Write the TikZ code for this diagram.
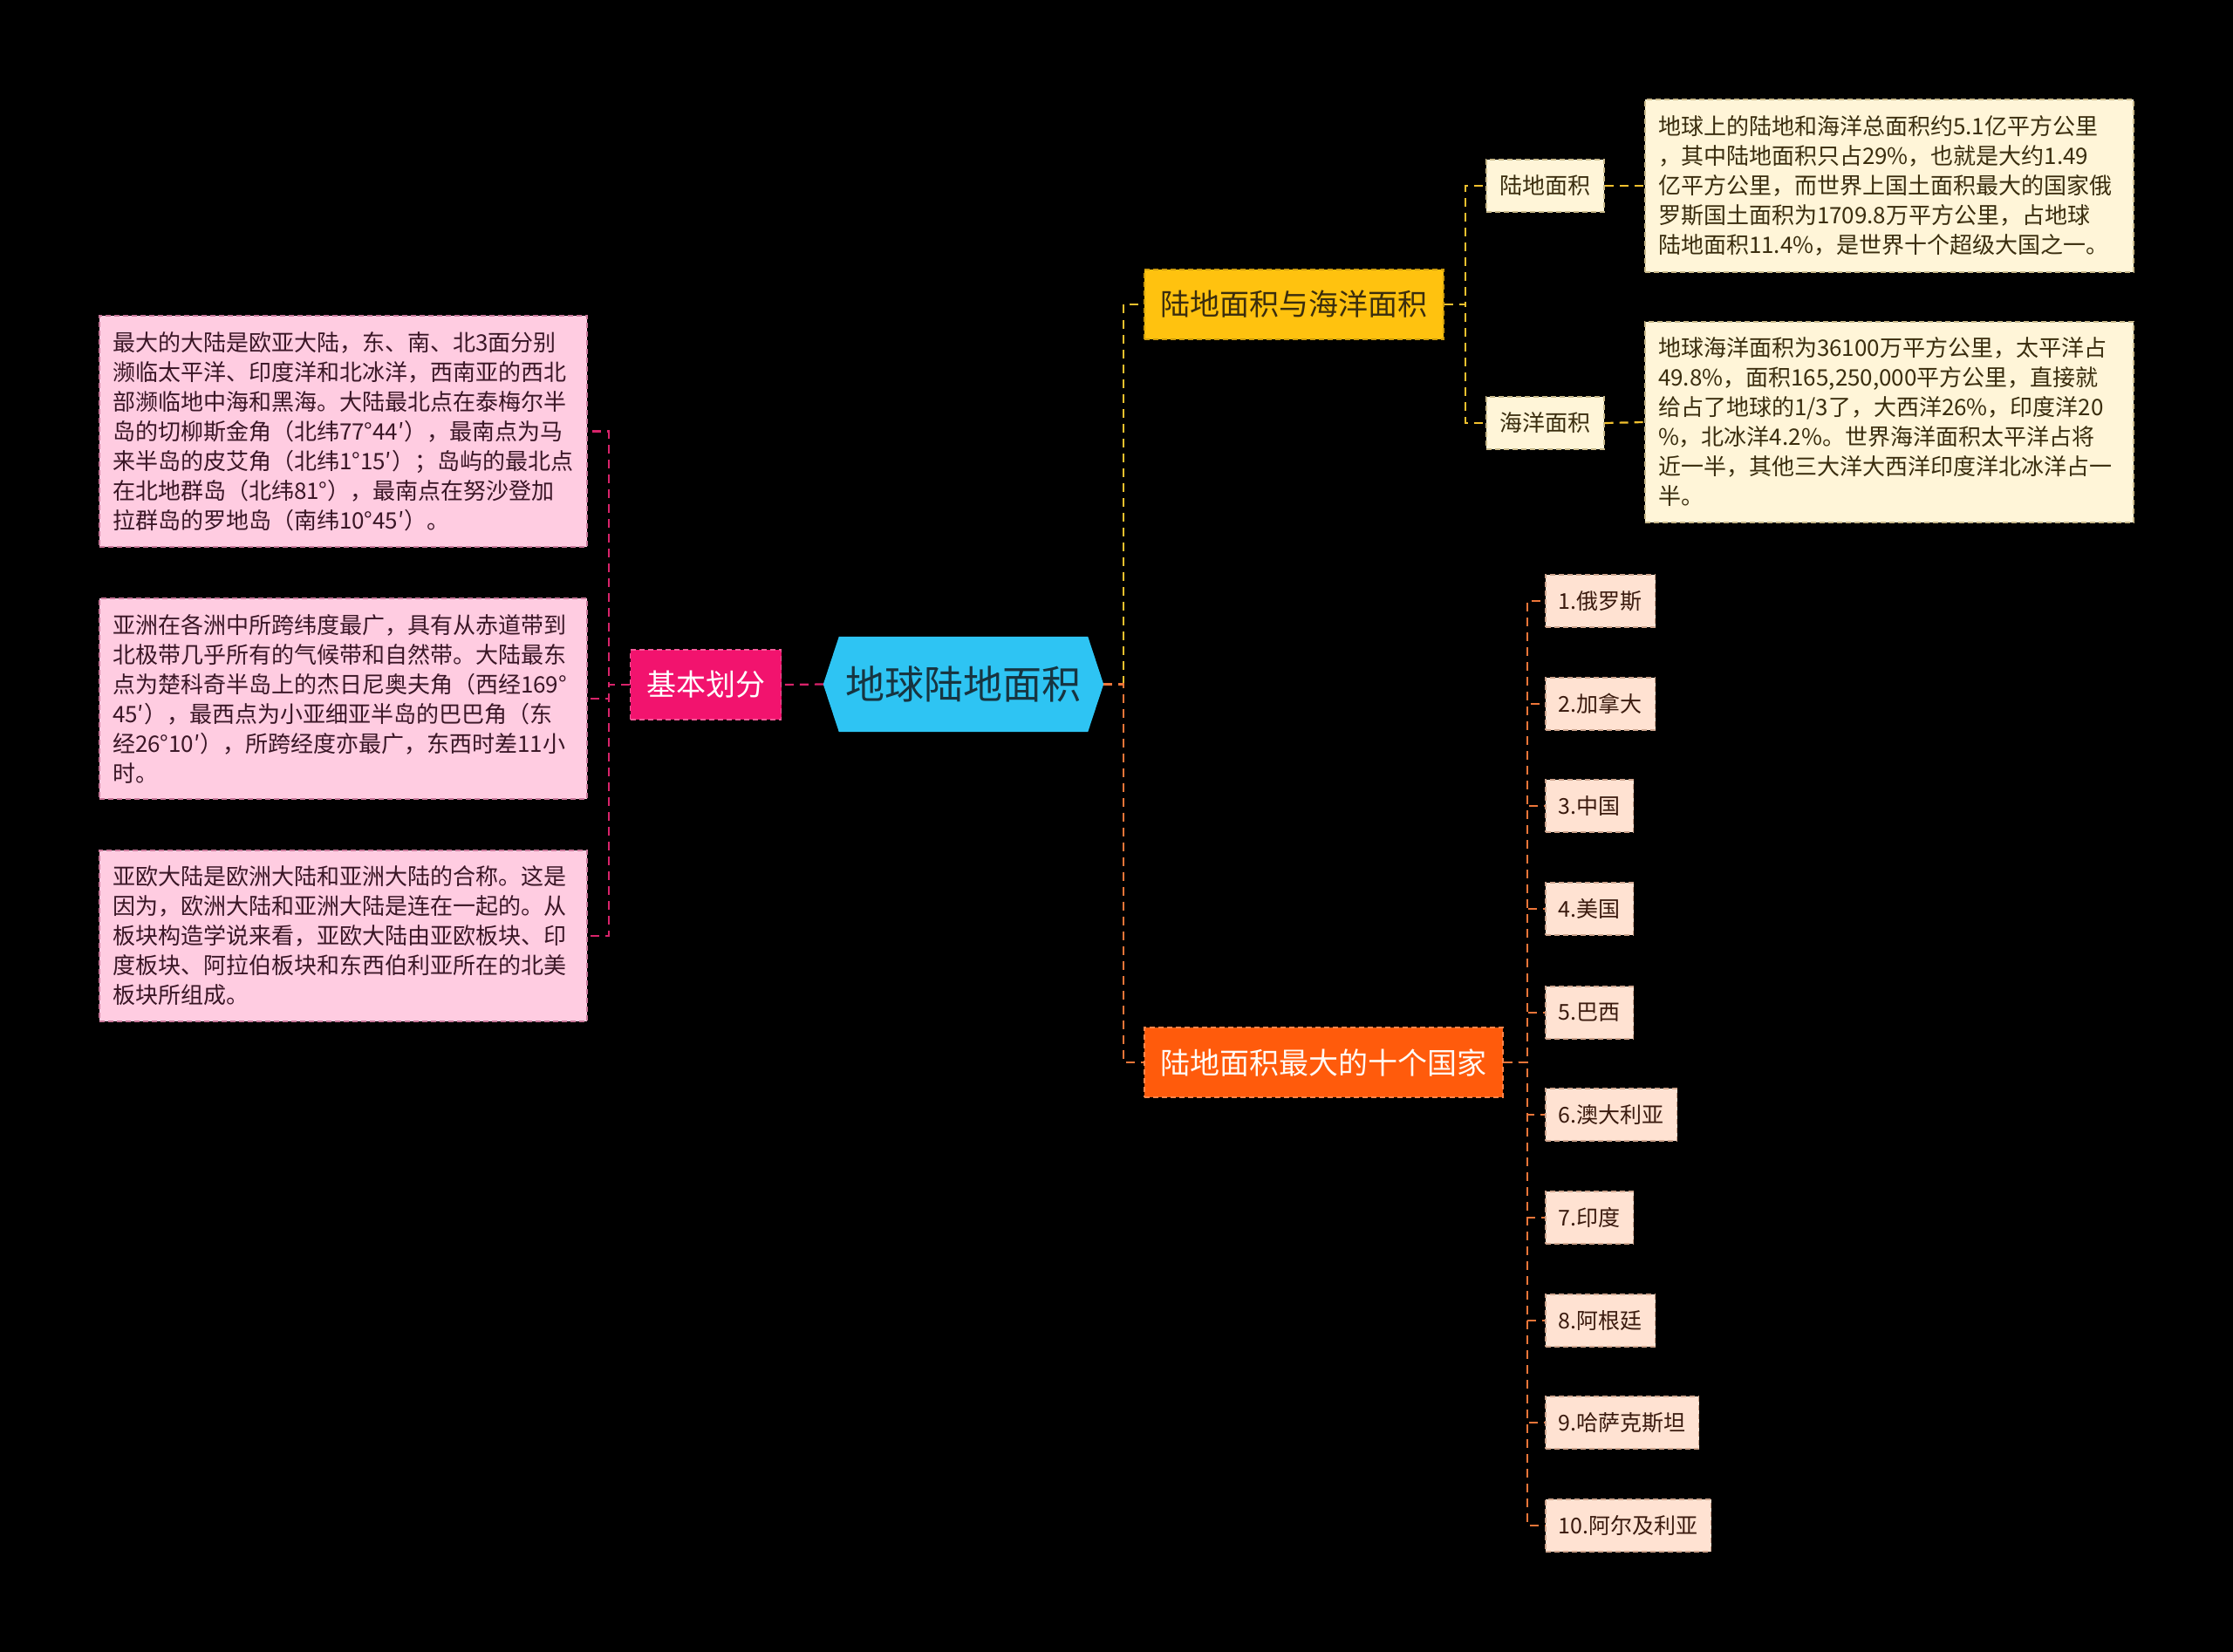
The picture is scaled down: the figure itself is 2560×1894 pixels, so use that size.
\documentclass[tikz,border=0pt]{standalone}
\usepackage{fontspec}
\setmainfont{Noto Sans CJK SC}
\usetikzlibrary{backgrounds,calc}
\definecolor{rootblue}{HTML}{2EC4F3}
\definecolor{roottext}{HTML}{173440}
\definecolor{hotpink}{HTML}{F2136E}
\definecolor{pinkline}{HTML}{D8236A}
\definecolor{pinkbox}{HTML}{FFCCE1}
\definecolor{pinkboxline}{HTML}{C9789A}
\definecolor{pinktext}{HTML}{3A1626}
\definecolor{amber}{HTML}{FFC20F}
\definecolor{amberline}{HTML}{F2C12E}
\definecolor{creambox}{HTML}{FFF5D8}
\definecolor{creamline}{HTML}{C9B98A}
\definecolor{creamtext}{HTML}{3A2D0E}
\definecolor{orangefill}{HTML}{FF5B0C}
\definecolor{orangeline}{HTML}{EE7639}
\definecolor{peachbox}{HTML}{FFE2D2}
\definecolor{peachline}{HTML}{CFA58E}
\definecolor{peachtext}{HTML}{3A1A0E}
\tikzset{
  conn/.style={line width=2.2pt, dash pattern=on 10pt off 7pt},
  pinkconn/.style={conn, draw=pinkline},
  yellowconn/.style={conn, draw=amberline},
  orangeconn/.style={conn, draw=orangeline},
  boxbase/.style={line width=1.6pt, dash pattern=on 6pt off 4pt, inner ysep=0pt},
  topicbox/.style={boxbase, font=\fontsize{34}{40}\selectfont, inner xsep=18.5pt, minimum height=80pt},
  leftboxstyle/.style={boxbase, fill=pinkbox, draw=pinkboxline, text=pinktext,
    font=\fontsize{26}{34}\selectfont, align=left, text width=529pt, inner xsep=15pt, minimum width=559pt},
  rightboxstyle/.style={boxbase, fill=creambox, draw=creamline, text=creamtext,
    font=\fontsize{26}{34}\selectfont, align=left, text width=530pt, inner xsep=15pt, minimum width=560pt},
  subbox/.style={boxbase, fill=creambox, draw=creamline, text=creamtext,
    font=\fontsize{26}{30}\selectfont, inner xsep=15.5pt, minimum height=60pt},
  countrybox/.style={boxbase, fill=peachbox, draw=peachline, text=peachtext,
    font=\fontsize{25}{30}\selectfont, inner xsep=15pt, minimum height=60pt, anchor=west},
}
\begin{document}
\begin{tikzpicture}[x=1pt,y=-1pt]
\useasboundingbox (0,0) rectangle (2560,1894);
\begin{scope}[on background layer]
  \fill[black] (0,0) rectangle (2560,1894);
\end{scope}

% root
\node[text=roottext, font=\fontsize{45}{54}\selectfont, minimum width=285pt, minimum height=109pt, inner sep=0pt] (root) at (1104.5,784.5) {地球陆地面积};
\coordinate (rootR) at ([xshift=18pt]root.east);
\coordinate (rootL) at ([xshift=-18pt]root.west);
\begin{scope}[on background layer]
  \fill[rootblue] (rootL) -- (root.north west) -- (root.north east) -- (rootR) -- (root.south east) -- (root.south west) -- cycle;
\end{scope}

% left branch
\node[topicbox, fill=hotpink, draw=hotpink!70!white, text=white] (basic) at (809,785) {基本划分};

\node[leftboxstyle, minimum height=265pt] (L1) at (393.5,494.5) {最大的大陆是欧亚大陆，东、南、北3面分别\\濒临太平洋、印度洋和北冰洋，西南亚的西北\\部濒临地中海和黑海。大陆最北点在泰梅尔半\\岛的切柳斯金角（北纬77°44′），最南点为马\\来半岛的皮艾角（北纬1°15′）；岛屿的最北点\\在北地群岛（北纬81°），最南点在努沙登加\\拉群岛的罗地岛（南纬10°45′）。};
\node[leftboxstyle, minimum height=230pt] (L2) at (393.5,801) {亚洲在各洲中所跨纬度最广，具有从赤道带到\\北极带几乎所有的气候带和自然带。大陆最东\\点为楚科奇半岛上的杰日尼奥夫角（西经169°\\45′），最西点为小亚细亚半岛的巴巴角（东\\经26°10′），所跨经度亦最广，东西时差11小\\时。};
\node[leftboxstyle, minimum height=196pt] (L3) at (393.5,1073) {亚欧大陆是欧洲大陆和亚洲大陆的合称。这是\\因为，欧洲大陆和亚洲大陆是连在一起的。从\\板块构造学说来看，亚欧大陆由亚欧板块、印\\度板块、阿拉伯板块和东西伯利亚所在的北美\\板块所组成。};

\draw[pinkconn] (rootL) -- (basic.east);
\draw[pinkconn] (basic.west) -- ++(-24,0) |- (L1.east);
\draw[pinkconn] (basic.west) -- ++(-24,0) |- (L2.east);
\draw[pinkconn] (basic.west) -- ++(-24,0) |- (L3.east);

% right branch: topics
\node[topicbox, fill=amber, draw=amber!80!black, text=creamtext, anchor=west] (landsea) at (1311,349) {陆地面积与海洋面积};
\node[topicbox, fill=orangefill, draw=orangefill!75!white, text=white!96!orange, anchor=west] (top10) at (1311,1218) {陆地面积最大的十个国家};

\draw[yellowconn] (rootR) ++(23,0) |- (landsea.west);
\draw[orangeconn] (rootR) -- ++(23,0) |- (top10.west);

% land/sea
\node[subbox, anchor=west] (land) at (1703,213) {陆地面积};
\node[subbox, anchor=west] (sea) at (1703,485) {海洋面积};
\node[rightboxstyle, minimum height=198pt] (R1) at (2166,213) {地球上的陆地和海洋总面积约5.1亿平方公里\\，其中陆地面积只占29\%，也就是大约1.49\\亿平方公里，而世界上国土面积最大的国家俄\\罗斯国土面积为1709.8万平方公里，占地球\\陆地面积11.4\%，是世界十个超级大国之一。};
\node[rightboxstyle, minimum height=230pt] (R2) at (2166,484) {地球海洋面积为36100万平方公里，太平洋占\\49.8\%，面积165,250,000平方公里，直接就\\给占了地球的1/3了，大西洋26\%，印度洋20\\\%，北冰洋4.2\%。世界海洋面积太平洋占将\\近一半，其他三大洋大西洋印度洋北冰洋占一\\半。};

\draw[yellowconn] (landsea.east) -- ++(24,0) |- (land.west);
\draw[yellowconn] (landsea.east) -- ++(24,0) |- (sea.west);
\draw[yellowconn] (land.east) -- (R1.west);
\draw[yellowconn] (sea.east) -- (R2.west);

% countries
\node[countrybox] (c1) at (1771,689) {1.俄罗斯};
\node[countrybox] (c2) at (1771,807) {2.加拿大};
\node[countrybox] (c3) at (1771,924) {3.中国};
\node[countrybox] (c4) at (1771,1042) {4.美国};
\node[countrybox] (c5) at (1771,1161) {5.巴西};
\node[countrybox] (c6) at (1771,1278) {6.澳大利亚};
\node[countrybox] (c7) at (1771,1396) {7.印度};
\node[countrybox] (c8) at (1771,1514) {8.阿根廷};
\node[countrybox] (c9) at (1771,1631) {9.哈萨克斯坦};
\node[countrybox] (c10) at (1771,1749) {10.阿尔及利亚};

\foreach \c in {c1,c2,c3,c4,c5,c6,c7,c8,c9,c10}
  \draw[orangeconn] (top10.east) -- ++(27,0) |- (\c.west);
\end{tikzpicture}
\end{document}
